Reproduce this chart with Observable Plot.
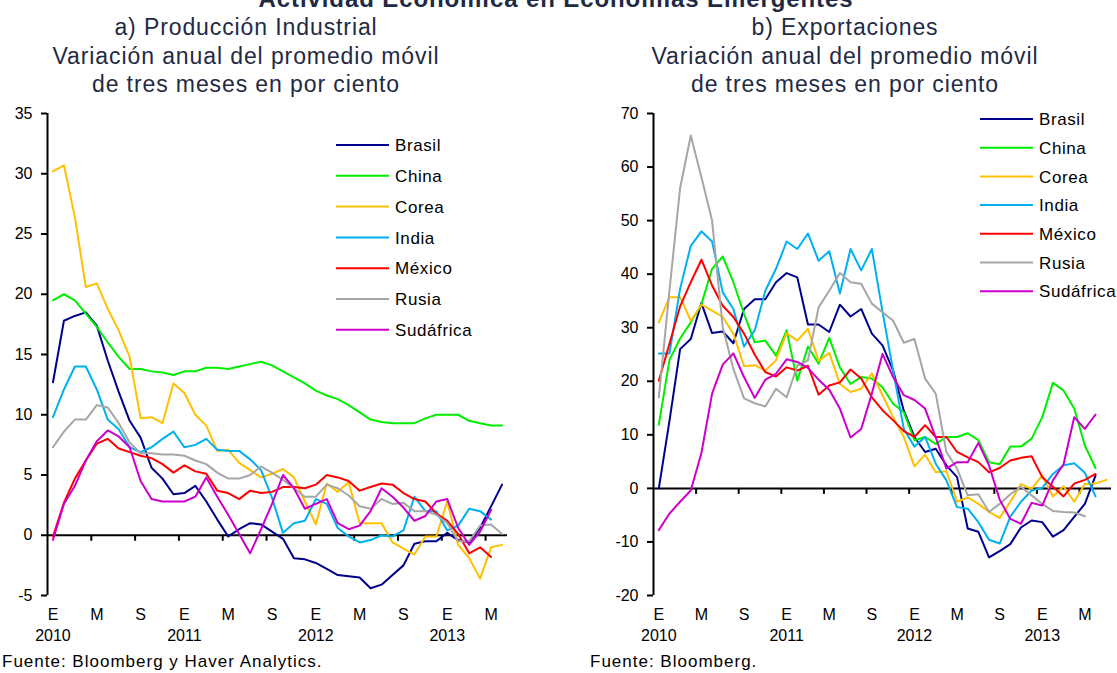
<!DOCTYPE html>
<html><head><meta charset="utf-8">
<script src="https://cdn.jsdelivr.net/npm/d3@7"></script>
<script src="https://cdn.jsdelivr.net/npm/@observablehq/plot@0.6"></script>
<style>
body{margin:0;background:#fff;}
#root{position:relative;width:1117px;height:673px;overflow:hidden;background:#fff;font-family:"Liberation Sans",Arial,sans-serif;}
.panel{position:absolute;top:100px;}
#overlay{position:absolute;left:0;top:0;pointer-events:none;}
</style></head>
<body><div id="root"></div>
<script>
// ---------- categories and tick labels ----------
const paises = ["Brasil","China","Corea","India","México","Rusia","Sudáfrica"];
const colores = ["#00008C","#00EE00","#FFC000","#00B0F0","#FF0000","#A6A6A6","#CC00CC"];
const meses = ["E","M","S"];
const anios = ["2010","2011","2012","2013"];
const ticksProd = [-5,0,5,10,15,20,25,30,35];
const ticksExp = [-20,-10,0,10,20,30,40,50,60,70];

// ---------- a) Producción industrial (ene 2010 - jun 2013) ----------
const prodBrasil = [12.7,17.8,18.2,18.5,17.4,14.5,11.9,9.5,8.1,5.6,4.7,3.4,3.5,4.1,2.8,1.3,-0.1,0.5,1.0,0.9,0.3,-0.3,-1.9,-2.0,-2.3,-2.8,-3.3,-3.4,-3.5,-4.4,-4.1,-3.3,-2.5,-0.7,-0.5,-0.5,0.2,-0.4,-0.6,0.6,2.4,4.2];
const prodChina = [19.5,20.0,19.5,18.4,17.3,16.0,14.8,13.8,13.8,13.6,13.5,13.3,13.6,13.6,13.9,13.9,13.8,14.0,14.2,14.4,14.1,13.6,13.1,12.6,12.0,11.6,11.3,10.8,10.2,9.6,9.4,9.3,9.3,9.3,9.7,10.0,10.0,10.0,9.5,9.3,9.1,9.1];
const prodCorea = [30.2,30.7,26.4,20.6,20.9,18.8,17.0,14.8,9.7,9.8,9.3,12.6,11.8,10.0,9.1,7.0,7.1,6.0,5.4,4.8,5.1,5.5,4.8,2.8,0.9,4.3,3.6,4.4,1.0,1.0,1.0,-0.6,-1.1,-1.6,-0.1,-0.1,2.8,-0.8,-1.9,-3.6,-1.0,-0.8];
const prodIndia = [9.8,12.1,14.0,14.0,12.1,9.6,8.8,7.3,6.9,7.3,8.0,8.6,7.3,7.5,8.0,7.1,7.0,7.0,6.3,5.4,3.1,0.2,1.0,1.2,3.0,2.6,0.6,-0.1,-0.6,-0.4,0.0,-0.1,0.4,3.2,2.0,2.0,0.4,0.8,2.2,2.0,1.3,null];
const prodMexico = [-0.1,2.7,4.7,6.2,7.6,8.0,7.2,6.9,6.6,6.4,5.9,5.2,5.8,5.3,5.1,3.7,3.5,3.0,3.7,3.5,3.6,4.0,4.0,3.9,4.2,5.0,4.8,4.5,3.7,4.0,4.3,4.2,3.5,3.0,2.8,1.8,1.2,0.1,-1.5,-1.0,-1.8,null];
const prodRusia = [7.3,8.6,9.6,9.6,10.8,10.6,9.3,7.7,6.8,6.8,6.7,6.7,6.6,6.2,5.9,5.2,4.7,4.7,5.0,5.7,5.2,4.6,3.9,3.2,3.2,4.2,3.9,3.3,2.4,2.2,3.0,2.6,2.7,2.0,2.0,1.7,1.0,-0.5,-0.5,0.8,0.9,0.1];
const prodSudafrica = [-0.4,2.6,4.1,6.2,7.8,8.7,8.2,7.3,4.5,3.0,2.8,2.8,2.8,3.2,4.8,3.2,1.7,0.1,-1.5,0.5,2.6,5.0,3.9,2.2,2.6,3.0,1.0,0.5,0.8,2.0,3.9,3.2,2.3,1.2,1.6,2.8,3.0,0.6,-0.8,0.3,2.1,null];

// ---------- b) Exportaciones (ene 2010 - jul 2013) ----------
const expBrasil = [0,12.6,26.0,27.9,34.6,29.0,29.3,27.1,33.5,35.3,35.3,38.5,40.2,39.4,30.6,30.6,29.2,34.3,32.1,33.5,28.9,26.7,22.0,14.5,9.6,6.8,7.4,4.3,2.1,-7.5,-8.1,-12.9,-11.7,-10.4,-7.3,-6.0,-6.3,-9.0,-7.8,-5.3,-2.9,2.4,null];
const expChina = [11.9,24.0,28.0,31.0,34.4,41.0,43.3,38.5,32.6,27.3,27.6,24.8,29.5,20.1,26.5,23.3,28.1,22.6,19.5,20.8,20.5,18.9,15.8,14.2,9.0,9.6,8.3,9.6,9.6,10.3,9.0,4.9,4.5,7.8,7.8,9.3,13.3,19.7,18.3,14.9,8.0,3.8,null];
const expCorea = [31.0,35.7,35.7,31.3,34.3,33.2,32.0,28.9,22.8,23.0,22.0,23.9,29.0,27.6,29.8,23.8,25.3,19.5,18.0,18.6,21.5,17.4,13.3,9.6,4.1,6.3,3.0,3.2,-2.5,-1.7,-2.9,-4.4,-5.5,-2.5,0.8,-0.1,2.4,-1.5,0.4,-2.5,0.8,0.9,1.6];
const expIndia = [25.2,25.2,37.3,45.3,48.0,46.1,36.6,33.5,26.5,29.5,36.9,41.0,46.1,44.7,47.6,42.5,44.3,36.4,44.7,40.7,44.7,33.0,22.0,11.1,7.8,9.6,4.6,1.5,-3.5,-3.8,-6.3,-9.6,-10.3,-5.3,-2.5,-0.4,0.1,2.7,4.3,4.7,2.9,-1.5,null];
const expMexico = [20.1,27.0,34.0,38.5,42.7,37.9,34.1,32.0,28.9,25.0,21.7,20.9,22.6,22.0,22.9,17.5,19.2,19.8,22.2,20.5,17.0,14.6,12.7,10.7,9.6,11.8,9.6,9.6,6.8,5.8,4.9,3.0,3.8,5.2,5.7,6.0,2.1,0.3,-1.5,0.9,1.6,2.7,null];
const expRusia = [17.0,37.0,56.1,65.9,58.1,50.0,30.1,22.3,16.8,15.9,15.3,18.6,17.0,22.9,23.9,33.8,36.9,40.2,38.5,38.2,34.5,32.9,31.3,27.2,27.9,20.5,17.7,6.8,3.7,-1.3,-1.1,-4.4,-2.9,-1.1,0.3,-1.3,-2.9,-4.2,-4.4,-4.5,-5.2,null,null];
const expSudafrica = [-7.8,-4.7,-2.5,-0.4,6.6,17.7,23.1,25.2,20.8,16.9,20.3,21.4,24.1,23.6,22.5,20.3,18.4,14.9,9.5,11.1,17.7,25.1,20.8,17.4,16.5,14.9,9.5,3.7,4.9,4.9,8.5,4.3,-2.1,-5.7,-6.6,-2.7,-3.2,1.5,4.5,13.3,11.1,13.8,null];

const FONT = '"Liberation Sans", Arial, sans-serif';
const fmt = d => String(d);

function filas(series) {
  return paises.flatMap((p, k) => series[k].map((v, i) => ({pais: p, i, v})).filter(d => d.v != null));
}

function panel({series, yDomain, yTicks, nCats, width, marginLeft, marginRight}) {
  const height = 545, marginTop = 13, marginBottom = 50;
  const innerH = height - marginTop - marginBottom;
  const tickLen = 6 * (yDomain[1] - yDomain[0]) / innerH;
  const xDomain = [-0.5, nCats - 0.5];
  const monthTicks = d3.range(0, nCats, 4);
  const yearTicks = d3.range(0, nCats, 12);
  const bounds = d3.range(4, nCats - 1, 4).map(d => d - 0.5);
  const rows = filas(series);
  const marks = [
    Plot.ruleY([0], {strokeWidth: 2, stroke: "#000"}),
    Plot.ruleX(bounds, {x: d => d, y1: 0, y2: -tickLen, strokeWidth: 2, stroke: "#000"}),
    Plot.ruleX([xDomain[0]], {strokeWidth: 2, stroke: "#000"}),
    Plot.text(monthTicks, {x: d => d, text: d => meses[(d % 12) / 4], frameAnchor: "bottom", dy: 24, fontSize: 16, fill: "#000"}),
    Plot.text(yearTicks, {x: d => d, text: d => anios[d / 12], frameAnchor: "bottom", dy: 45, fontSize: 16, fill: "#000"}),
    Plot.line(rows, {x: "i", y: "v", z: "pais", stroke: "pais", strokeWidth: 2})
  ];
  const yOpts = {domain: yDomain, label: null};
  if (Plot.axisY) {
    marks.unshift(Plot.axisY(yTicks, {tickSize: 6, tickPadding: 9, tickFormat: fmt, strokeWidth: 2, stroke: "#000", fill: "#000", fontSize: 16, label: null}));
  } else {
    Object.assign(yOpts, {ticks: yTicks, tickSize: 6, tickPadding: 9, tickFormat: fmt});
  }
  return Plot.plot({
    width, height, marginTop, marginBottom, marginLeft, marginRight,
    x: {domain: xDomain, axis: null},
    y: yOpts,
    color: {domain: paises, range: colores},
    style: {fontFamily: FONT, fontSize: "16px", color: "#000", background: "transparent", overflow: "visible"},
    marks
  });
}

const root = document.getElementById("root");

const left = document.createElement("div");
left.className = "panel"; left.style.left = "0px";
left.appendChild(panel({
  series: [prodBrasil, prodChina, prodCorea, prodIndia, prodMexico, prodRusia, prodSudafrica],
  yDomain: [-5, 35], yTicks: ticksProd, nCats: 42, width: 555, marginLeft: 47, marginRight: 48
}));
root.appendChild(left);

const right = document.createElement("div");
right.className = "panel"; right.style.left = "560px";
right.appendChild(panel({
  series: [expBrasil, expChina, expCorea, expIndia, expMexico, expRusia, expSudafrica],
  yDomain: [-20, 70], yTicks: ticksExp, nCats: 43, width: 557, marginLeft: 93, marginRight: 6
}));
root.appendChild(right);

// ---------- titles, legends, sources ----------
const svg = d3.select(root).append("svg").attr("id", "overlay")
  .attr("width", 1117).attr("height", 673).style("font-family", FONT);

svg.append("text").attr("x", 556).attr("y", 7).attr("text-anchor", "middle")
  .attr("font-size", 24).attr("font-weight", "bold").attr("letter-spacing", 0.9).attr("fill", "#1F2A44")
  .text("Actividad Económica en Economías Emergentes");

const subt = [
  {cx: 246, lines: ["a) Producción Industrial", "Variación anual del promedio móvil", "de tres meses en por ciento"]},
  {cx: 845, lines: ["b) Exportaciones", "Variación anual del promedio móvil", "de tres meses en por ciento"]}
];
subt.forEach(s => s.lines.forEach((t, k) => {
  svg.append("text").attr("x", s.cx).attr("y", 35 + k * 28.7).attr("text-anchor", "middle")
    .attr("font-size", 23).attr("letter-spacing", 0.9).attr("fill", "#1F2A44").text(t);
}));

function leyenda(x0, y0, step) {
  const g = svg.append("g");
  paises.forEach((p, k) => {
    const y = y0 + k * step;
    g.append("line").attr("x1", x0).attr("x2", x0 + 53).attr("y1", y).attr("y2", y)
      .attr("stroke", colores[k]).attr("stroke-width", 2);
    g.append("text").attr("x", x0 + 59).attr("y", y).attr("dy", "0.36em")
      .attr("font-size", 17).attr("letter-spacing", 0.6).attr("fill", "#000").text(p);
  });
}
leyenda(336, 145, 30.8);
leyenda(980, 119, 28.7);

svg.append("text").attr("x", 2).attr("y", 667).attr("font-size", 17).attr("letter-spacing", 1)
  .attr("fill", "#000").text("Fuente: Bloomberg y Haver Analytics.");
svg.append("text").attr("x", 590).attr("y", 667).attr("font-size", 17).attr("letter-spacing", 1)
  .attr("fill", "#000").text("Fuente: Bloomberg.");
</script>
</body></html>
